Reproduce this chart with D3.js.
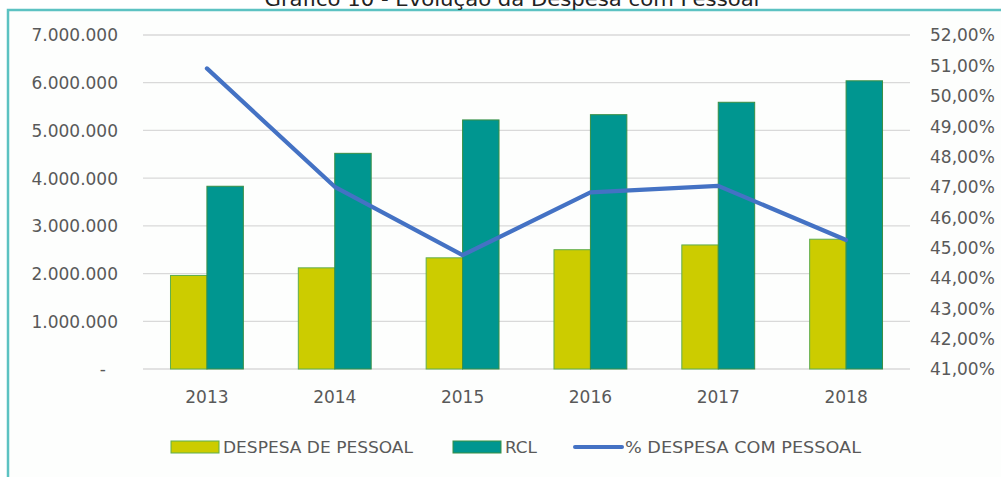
<!DOCTYPE html>
<html>
<head>
<meta charset="utf-8">
<script src="https://cdn.jsdelivr.net/npm/d3@7"></script>
<style>
  html, body { margin: 0; padding: 0; background: #ffffff; }
  svg { display: block; }
</style>
</head>
<body>
<svg id="chart" width="1001" height="477"></svg>
<script>
const categories = ["2013", "2014", "2015", "2016", "2017", "2018"];
const despesaPessoal = [1960000, 2120000, 2330000, 2500000, 2600000, 2720000];
const rcl = [3830000, 4520000, 5220000, 5330000, 5590000, 6040000];
const pctDespesa = [50.90, 47.00, 44.75, 46.82, 47.03, 45.25];
const leftTicks = [0, 1000000, 2000000, 3000000, 4000000, 5000000, 6000000, 7000000];
const rightTicks = [41, 42, 43, 44, 45, 46, 47, 48, 49, 50, 51, 52];
const seriesNames = ["DESPESA DE PESSOAL", "RCL", "% DESPESA COM PESSOAL"];
const titleText = "Gráfico 10 - Evolução da Despesa com Pessoal";

const svg = d3.select("#chart");
const FONT = "DejaVu Sans";
const TXT = "#595959";
const C_Y = "#cccc00", C_T = "#009690", C_L = "#4472c4", C_EDGE = "#3a8f45";

// frame
svg.append("rect").attr("x", 8).attr("y", 10).attr("width", 1100).attr("height", 600)
  .attr("fill", "#fdfefd").attr("stroke", "#5cc2c2").attr("stroke-width", 2.5);

// title (cropped at top as in the reference)
svg.append("text").attr("x", 512).attr("y", 6).attr("text-anchor", "middle")
  .attr("font-family", FONT).attr("font-size", 19).attr("fill", "#222")
  .attr("textLength", 495).attr("lengthAdjust", "spacingAndGlyphs")
  .text(titleText);

const plotL = 143, plotR = 910, plotT = 35, plotB = 369;

const x0 = d3.scaleBand().domain(categories).range([plotL, plotR])
  .paddingInner(0.43).paddingOuter(0.215);
const x1 = d3.scaleBand().domain([0, 1]).range([0, x0.bandwidth()]);
const yL = d3.scaleLinear().domain([0, 7000000]).range([plotB, plotT]);
const yR = d3.scaleLinear().domain([41, 52]).range([plotB, plotT]);

// gridlines
svg.append("g").selectAll("line").data(leftTicks).join("line")
  .attr("x1", plotL).attr("x2", plotR)
  .attr("y1", d => yL(d)).attr("y2", d => yL(d))
  .attr("stroke", "#d9d9d9").attr("stroke-width", 1.3);

// left axis
const fmtL = d => d === 0 ? "-" : d3.format(",")(d).replace(/,/g, ".");
const axL = svg.append("g").attr("transform", `translate(${plotL - 25},0)`)
  .call(d3.axisLeft(yL).tickValues(leftTicks).tickFormat(fmtL).tickSize(0).tickPadding(0));
axL.select(".domain").remove();
axL.selectAll("text").attr("font-family", FONT).attr("font-size", 17).attr("fill", TXT)
  .attr("dx", d => d === 0 ? -12 : 0).attr("dy", "0.35em");

// right axis
const fmtR = d => d.toFixed(2).replace(".", ",") + "%";
const axR = svg.append("g").attr("transform", `translate(${plotR + 20},0)`)
  .call(d3.axisRight(yR).tickValues(rightTicks).tickFormat(fmtR).tickSize(0).tickPadding(0));
axR.select(".domain").remove();
axR.selectAll("text").attr("font-family", FONT).attr("font-size", 17).attr("fill", TXT)
  .attr("dy", "0.35em");

// x axis
const axX = svg.append("g").attr("transform", `translate(0,${plotB})`)
  .call(d3.axisBottom(x0).tickSize(0).tickPadding(22));
axX.select(".domain").remove();
axX.selectAll("text").attr("font-family", FONT).attr("font-size", 17).attr("fill", TXT);

// bars
const groups = svg.append("g").selectAll("g").data(categories).join("g")
  .attr("transform", d => `translate(${x0(d)},0)`);
groups.append("rect")
  .attr("x", x1(0)).attr("width", x1.bandwidth())
  .attr("y", (d, i) => yL(despesaPessoal[i]))
  .attr("height", (d, i) => yL(0) - yL(despesaPessoal[i]))
  .attr("fill", C_Y).attr("stroke", "#5fae4f").attr("stroke-width", 1);
groups.append("rect")
  .attr("x", x1(1)).attr("width", x1.bandwidth())
  .attr("y", (d, i) => yL(rcl[i]))
  .attr("height", (d, i) => yL(0) - yL(rcl[i]))
  .attr("fill", C_T).attr("stroke", C_EDGE).attr("stroke-width", 1);

// line
const line = d3.line().x((d, i) => x0(categories[i]) + x0.bandwidth() / 2).y(d => yR(d));
svg.append("path").datum(pctDespesa).attr("d", line)
  .attr("fill", "none").attr("stroke", C_L).attr("stroke-width", 4.2)
  .attr("stroke-linejoin", "round").attr("stroke-linecap", "round");

// legend
const lg = svg.append("g").attr("font-family", FONT).attr("font-size", 16).attr("fill", TXT);
const ly = 447;
lg.append("rect").attr("x", 171).attr("y", ly - 6).attr("width", 48).attr("height", 12)
  .attr("fill", C_Y).attr("stroke", "#5fae4f");
lg.append("text").attr("x", 223).attr("y", ly).attr("dy", "0.35em")
  .attr("textLength", 190).attr("lengthAdjust", "spacingAndGlyphs").text(seriesNames[0]);
lg.append("rect").attr("x", 453).attr("y", ly - 6).attr("width", 48).attr("height", 12)
  .attr("fill", C_T).attr("stroke", C_EDGE);
lg.append("text").attr("x", 505).attr("y", ly).attr("dy", "0.35em")
  .attr("textLength", 32).attr("lengthAdjust", "spacingAndGlyphs").text(seriesNames[1]);
lg.append("line").attr("x1", 575).attr("x2", 622).attr("y1", ly).attr("y2", ly)
  .attr("stroke", C_L).attr("stroke-width", 4).attr("stroke-linecap", "round");
lg.append("text").attr("x", 625).attr("y", ly).attr("dy", "0.35em")
  .attr("textLength", 236).attr("lengthAdjust", "spacingAndGlyphs").text(seriesNames[2]);
</script>
</body>
</html>
